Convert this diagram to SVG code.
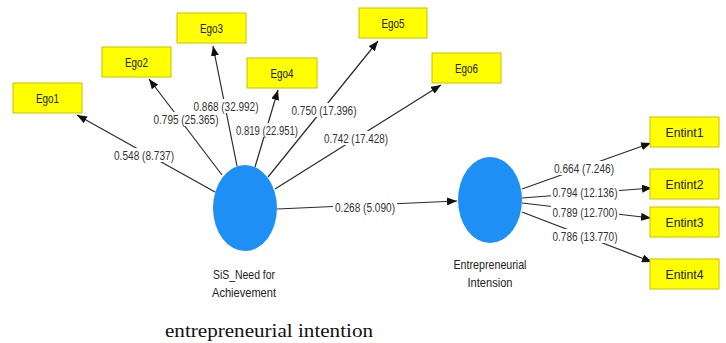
<svg xmlns="http://www.w3.org/2000/svg" width="726" height="343" viewBox="0 0 726 343">
<style>
.box{fill:#ffff00;stroke:#c9c000;stroke-width:1}
.lv{fill:#1e90f5}
.t{font-family:"Liberation Sans",Arial,sans-serif;font-size:13px;fill:#222;text-anchor:middle}
.n{font-family:"Liberation Sans",Arial,sans-serif;font-size:12.5px;fill:#333;text-anchor:middle}
.bg{fill:#ffffff}
.c{stroke:#2a2a2a;stroke-width:1.2;fill:none;marker-end:url(#ah)}
.cap{font-family:"Liberation Serif","Times New Roman",serif;font-size:19.5px;fill:#111}
</style>
<defs>
<marker id="ah" markerWidth="11" markerHeight="8" refX="10" refY="4" orient="auto" markerUnits="userSpaceOnUse">
<path d="M0,0 L10,4 L0,8 z" fill="#111"/>
</marker>
</defs>
<rect width="726" height="343" fill="#ffffff"/>
<g id="connectors">
<line class="c" x1="215" y1="192" x2="77" y2="115"/>
<line class="c" x1="222" y1="175" x2="149" y2="79"/>
<line class="c" x1="237" y1="166" x2="213" y2="46"/>
<line class="c" x1="255" y1="167" x2="278" y2="90"/>
<line class="c" x1="268" y1="177" x2="378" y2="41"/>
<line class="c" x1="275" y1="189" x2="441" y2="85"/>
<line class="c" x1="277" y1="209" x2="457" y2="201"/>
<line class="c" x1="522" y1="189" x2="651" y2="143"/>
<line class="c" x1="522" y1="198" x2="652" y2="188"/>
<line class="c" x1="522" y1="203" x2="651" y2="218"/>
<line class="c" x1="522" y1="212" x2="652" y2="262"/>
<g id="labels">
<rect class="bg" x="113" y="148" width="62" height="14"/>
<text class="n" x="144" y="159.5" textLength="60" lengthAdjust="spacingAndGlyphs">0.548 (8.737)</text>
<rect class="bg" x="152" y="112" width="67" height="14"/>
<text class="n" x="186" y="123.5" textLength="65" lengthAdjust="spacingAndGlyphs">0.795 (25.365)</text>
<rect class="bg" x="192" y="99" width="67" height="14"/>
<text class="n" x="226" y="110.5" textLength="65" lengthAdjust="spacingAndGlyphs">0.868 (32.992)</text>
<rect class="bg" x="235" y="123" width="64" height="14"/>
<text class="n" x="267" y="134.5" textLength="62" lengthAdjust="spacingAndGlyphs">0.819 (22.951)</text>
<rect class="bg" x="290" y="103" width="67" height="14"/>
<text class="n" x="324" y="114.5" textLength="65" lengthAdjust="spacingAndGlyphs">0.750 (17.396)</text>
<rect class="bg" x="323" y="131" width="66" height="14"/>
<text class="n" x="356" y="142.5" textLength="64" lengthAdjust="spacingAndGlyphs">0.742 (17.428)</text>
<rect class="bg" x="333" y="199" width="64" height="14"/>
<text class="n" x="365" y="211.5" textLength="60" lengthAdjust="spacingAndGlyphs">0.268 (5.090)</text>
<rect class="bg" x="553" y="161" width="63" height="14"/>
<text class="n" x="584" y="172.5" textLength="60" lengthAdjust="spacingAndGlyphs">0.664 (7.246)</text>
<rect class="bg" x="551" y="185" width="68" height="13"/>
<text class="n" x="585" y="196.5" textLength="65" lengthAdjust="spacingAndGlyphs">0.794 (12.136)</text>
<rect class="bg" x="551" y="205" width="68" height="13"/>
<text class="n" x="585" y="216.5" textLength="65" lengthAdjust="spacingAndGlyphs">0.789 (12.700)</text>
<rect class="bg" x="551" y="229" width="68" height="14"/>
<text class="n" x="585" y="240.5" textLength="65" lengthAdjust="spacingAndGlyphs">0.786 (13.770)</text>
</g>
</g>
<g id="Ego1"><rect class="box" x="13" y="83" width="69" height="30"/><text class="t" x="47.5" y="103" textLength="23" lengthAdjust="spacingAndGlyphs">Ego1</text></g>
<g id="Ego2"><rect class="box" x="102" y="47" width="69" height="30"/><text class="t" x="136.5" y="67" textLength="23" lengthAdjust="spacingAndGlyphs">Ego2</text></g>
<g id="Ego3"><rect class="box" x="177" y="13" width="69" height="30"/><text class="t" x="211.5" y="33" textLength="23" lengthAdjust="spacingAndGlyphs">Ego3</text></g>
<g id="Ego4"><rect class="box" x="247" y="58" width="70" height="30"/><text class="t" x="282" y="78" textLength="23" lengthAdjust="spacingAndGlyphs">Ego4</text></g>
<g id="Ego5"><rect class="box" x="359" y="8" width="68" height="30"/><text class="t" x="393" y="28" textLength="23" lengthAdjust="spacingAndGlyphs">Ego5</text></g>
<g id="Ego6"><rect class="box" x="432" y="53" width="69" height="30"/><text class="t" x="466.5" y="73" textLength="23" lengthAdjust="spacingAndGlyphs">Ego6</text></g>
<g id="Entint1"><rect class="box" x="650" y="117" width="69" height="30"/><text class="t" x="684.5" y="137" textLength="38" lengthAdjust="spacingAndGlyphs">Entint1</text></g>
<g id="Entint2"><rect class="box" x="650" y="169" width="69" height="30"/><text class="t" x="684.5" y="189" textLength="38" lengthAdjust="spacingAndGlyphs">Entint2</text></g>
<g id="Entint3"><rect class="box" x="650" y="207" width="69" height="30"/><text class="t" x="684.5" y="227" textLength="38" lengthAdjust="spacingAndGlyphs">Entint3</text></g>
<g id="Entint4"><rect class="box" x="650" y="259" width="69" height="30"/><text class="t" x="684.5" y="279" textLength="38" lengthAdjust="spacingAndGlyphs">Entint4</text></g>
<g id="SiS_Need_for_Achievement">
<ellipse class="lv" cx="245" cy="208" rx="32" ry="43"/>
<text class="t" x="244" y="279" textLength="62" lengthAdjust="spacingAndGlyphs">SiS_Need for</text>
<text class="t" x="244" y="297" textLength="64" lengthAdjust="spacingAndGlyphs">Achievement</text>
</g>
<g id="Entrepreneurial_Intension">
<ellipse class="lv" cx="490" cy="200" rx="32" ry="43"/>
<text class="t" x="490" y="269" textLength="73" lengthAdjust="spacingAndGlyphs">Entrepreneurial</text>
<text class="t" x="490" y="287" textLength="45" lengthAdjust="spacingAndGlyphs">Intension</text>
</g>
<text class="cap" x="165" y="337" textLength="208" lengthAdjust="spacingAndGlyphs">entrepreneurial intention</text>
</svg>
